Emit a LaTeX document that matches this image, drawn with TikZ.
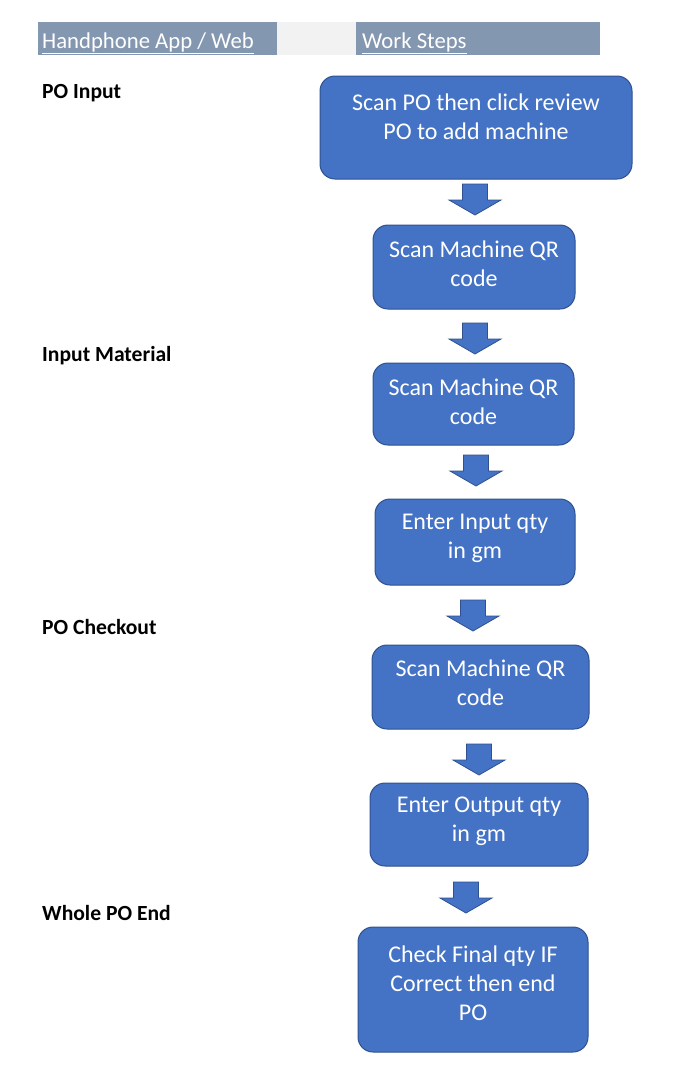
\documentclass[tikz,border=0pt]{standalone}
\usepackage{fontspec}
\setmainfont{Carlito}
\definecolor{hdr}{HTML}{8497B0}
\definecolor{gapc}{HTML}{F2F2F2}
\definecolor{boxf}{HTML}{4472C4}
\definecolor{boxd}{HTML}{2F528F}
\tikzset{
  stepbox/.style={draw=boxd, line width=1pt, fill=boxf, rounded corners=15pt, inner sep=0pt},
  boxtext/.style={text=white, align=center, font=\fontsize{24}{29}\selectfont, inner sep=0pt},
  sidelabel/.style={anchor=base west, font=\fontsize{21.6}{25}\selectfont\bfseries, inner sep=0pt},
  hdrtext/.style={anchor=base west, text=white, font=\fontsize{22.7}{26}\selectfont, inner sep=0pt},
  downarrow/.style={draw=boxd, line width=0.8pt, fill=boxf},
}
\newcommand{\blockarrow}[2]{% center x, top y
  \draw[downarrow] (#1-12.5,#2) -- (#1+12.5,#2) -- (#1+12.5,#2+16) -- (#1+26,#2+16) -- (#1,#2+31) -- (#1-26,#2+16) -- (#1-12.5,#2+16) -- cycle;}
\begin{document}
\begin{tikzpicture}[x=1pt,y=-1pt]
\useasboundingbox (0,0) rectangle (678,1080);
\fill[white] (0,0) rectangle (678,1080);
% header
\fill[hdr] (38,22) rectangle (277,55);
\fill[gapc] (277,22) rectangle (356,55);
\fill[hdr] (356,22) rectangle (600,55);
\node[hdrtext] (h1) at (42,48) {\underline{Handphone App / Web}};
\node[hdrtext] (h2) at (362,48) {\underline{Work Steps}};
% side labels
\node[sidelabel] (l1) at (42,98) {PO Input};
\node[sidelabel] (l2) at (42,361) {Input Material};
\node[sidelabel] (l3) at (42,634) {PO Checkout};
\node[sidelabel] (l4) at (42,920) {Whole PO End};
% boxes
\node[stepbox, minimum width=312pt, minimum height=103pt] (b1) at (476,127.5) {};
\node[boxtext] (t1) at (476,116.5) {Scan PO then click review\\PO to add machine};
\node[stepbox, minimum width=202pt, minimum height=84pt] (b2) at (474,267) {};
\node[boxtext] (t2) at (474,264) {Scan Machine QR\\code};
\node[stepbox, minimum width=201pt, minimum height=82pt] (b3) at (473.5,404) {};
\node[boxtext] (t3) at (473.5,402) {Scan Machine QR\\code};
\node[stepbox, minimum width=200pt, minimum height=86pt] (b4) at (475,542) {};
\node[boxtext] (t4) at (475,538) {Enter Input qty\\in gm};
\node[stepbox, minimum width=217pt, minimum height=84pt] (b5) at (480.5,687) {};
\node[boxtext] (t5) at (480.5,683) {Scan Machine QR\\code};
\node[stepbox, minimum width=218pt, minimum height=83pt] (b6) at (479,824.5) {};
\node[boxtext] (t6) at (479,821) {Enter Output qty\\in gm};
\node[stepbox, minimum width=230pt, minimum height=125pt] (b7) at (473,989.5) {};
\node[boxtext] (t7) at (473,983.5) {Check Final qty IF\\Correct then end\\PO};
% arrows
\blockarrow{475}{184}
\blockarrow{475}{323}
\blockarrow{476}{455}
\blockarrow{473}{600}
\blockarrow{479}{744}
\blockarrow{466}{882}
\end{tikzpicture}
\end{document}
